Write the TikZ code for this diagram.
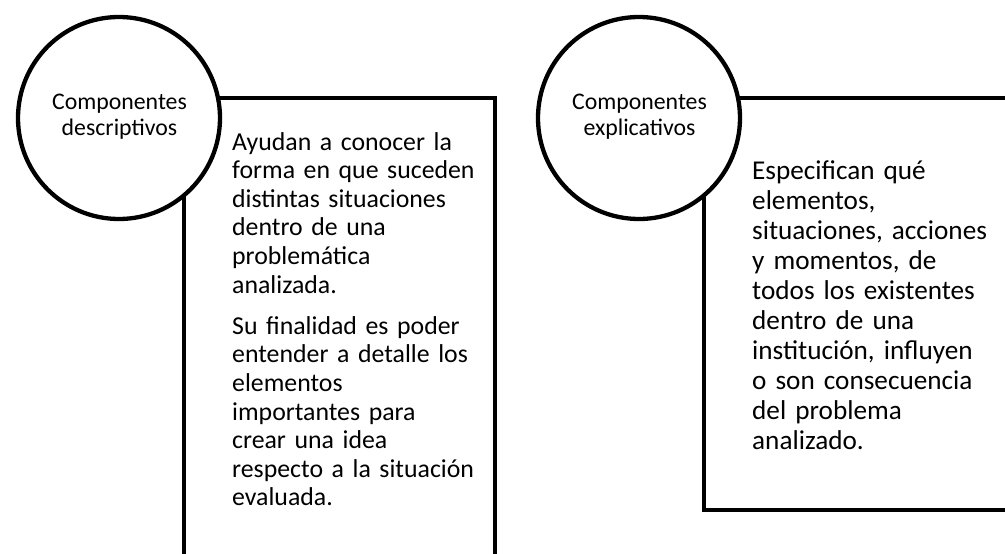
\documentclass[tikz,border=0pt]{standalone}
\usepackage{fontspec}
\setmainfont{Carlito}
\begin{document}
\begin{tikzpicture}[x=1pt,y=-1pt]
\tikzset{
  bubble/.style={circle, draw, fill=white, line width=4.3pt, minimum size=202pt, inner sep=0pt},
  panel/.style={draw, line width=4pt, rectangle, anchor=north west, inner sep=0pt},
  body/.style={anchor=base west, align=left, inner sep=0pt, text width=262pt},
  ctitle/.style={anchor=base, align=center, inner sep=0pt, text width=180pt, font=\fontsize{23.8}{26}\selectfont}
}
\useasboundingbox (0,0) rectangle (1005,554);
\clip (0,0) rectangle (1005,554);
\fill[white] (0,0) rectangle (1005,554);
\node[panel, minimum width=311pt, minimum height=480pt] (p1) at (182,96) {};
\node[panel, minimum width=340pt, minimum height=412pt] (p2) at (702,96) {};
\node[bubble] (c1) at (119,118) {};
\node[bubble] (c2) at (639,118) {};
\node[ctitle] (t1) at (119.5,109) {Componentes\\descriptivos};
\node[ctitle] (t2) at (639.5,109) {Componentes\\explicativos};
\node[body, font=\fontsize{25.8}{28.6}\selectfont] (b1) at (232,150) {Ayudan a conocer la\\forma en que suceden\\distintas situaciones\\dentro de una\\problemática\\analizada.\\[12.6pt]Su finalidad es poder\\entender a detalle los\\elementos\\importantes para\\crear una idea\\respecto a la situación\\evaluada.};
\node[body, font=\fontsize{27.2}{30}\selectfont] (b2) at (752,179) {Especifican qué\\elementos,\\situaciones, acciones\\y momentos, de\\todos los existentes\\dentro de una\\institución, influyen\\o son consecuencia\\del problema\\analizado.};
\end{tikzpicture}
\end{document}
